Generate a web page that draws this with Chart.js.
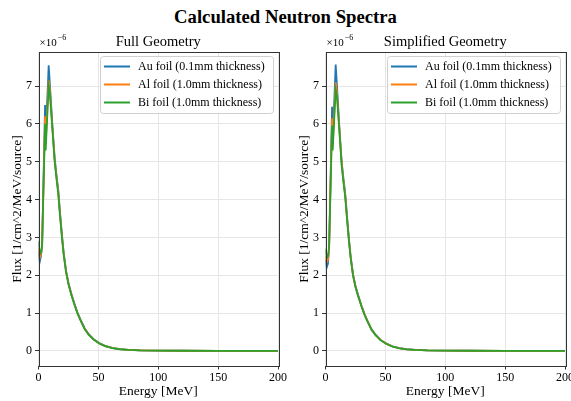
<!DOCTYPE html>
<html>
<head>
<meta charset="utf-8">
<script src="https://cdn.jsdelivr.net/npm/chart.js@4.4.1/dist/chart.umd.min.js"></script>
<style>
  html, body { margin: 0; padding: 0; background: #fff; overflow: hidden; }
  body { width: 571px; height: 401px; position: relative; font-family: 'Liberation Serif', serif; }
  #suptitle { position: absolute; left: 0; top: 6px; width: 571px; text-align: center;
    font-size: 18.7px; font-weight: bold; color: #000; line-height: 22px; }
  canvas { position: absolute; top: 0; }
  #cFull { left: 0; }
  #cSimple { left: 287px; }
</style>
</head>
<body>
<div id="suptitle">Calculated Neutron Spectra</div>
<canvas id="cFull" width="295" height="401"></canvas>
<canvas id="cSimple" width="295" height="401"></canvas>
<script>
// energies in MeV, fluxes in units of 1e-6 /cm^2/MeV/source
const energy = [0, 1, 2, 3, 5.5, 6, 8.5, 9.5, 11.5, 13.5, 15, 16.5, 18, 19.5, 21, 23, 25, 27.5,
  30, 32.5, 35, 38.5, 42, 46, 51, 56, 62, 68, 75, 85, 100, 120, 150, 200];

const fullAu = [2.6, 2.35, 2.5, 2.75, 6.5, 5.6, 7.55, 7.05, 6.0, 5.1, 4.65, 4.25, 3.65, 3.1, 2.6, 2.12, 1.8, 1.5,
  1.25, 1.02, 0.83, 0.6, 0.44, 0.31, 0.2, 0.13, 0.075, 0.045, 0.028, 0.015, 0.007, 0.003, 0.001, 0.0003];
const fullAl = [2.7, 2.45, 2.55, 2.75, 6.2, 5.5, 7.15, 6.9, 5.95, 5.05, 4.6, 4.2, 3.6, 3.05, 2.57, 2.1, 1.78, 1.48,
  1.23, 1.0, 0.82, 0.59, 0.43, 0.3, 0.195, 0.125, 0.073, 0.044, 0.027, 0.015, 0.007, 0.003, 0.001, 0.0003];
const fullBi = [2.9, 2.55, 2.6, 2.8, 6.0, 5.3, 7.0, 6.8, 5.9, 5.0, 4.55, 4.15, 3.55, 3.02, 2.55, 2.08, 1.76, 1.47,
  1.22, 0.99, 0.81, 0.58, 0.42, 0.3, 0.19, 0.12, 0.07, 0.043, 0.027, 0.014, 0.007, 0.003, 0.001, 0.0003];

const simpleAu = [2.4, 2.2, 2.3, 2.7, 6.45, 5.5, 7.57, 7.05, 5.95, 5.0, 4.55, 4.15, 3.55, 2.98, 2.5, 2.02, 1.72, 1.45,
  1.2, 0.98, 0.8, 0.57, 0.42, 0.29, 0.19, 0.12, 0.07, 0.043, 0.027, 0.014, 0.007, 0.003, 0.001, 0.0003];
const simpleAl = [2.5, 2.35, 2.4, 2.7, 6.15, 5.4, 7.1, 6.85, 5.9, 4.95, 4.5, 4.1, 3.5, 2.95, 2.48, 2.0, 1.7, 1.43,
  1.19, 0.97, 0.79, 0.56, 0.41, 0.29, 0.185, 0.115, 0.068, 0.042, 0.026, 0.014, 0.007, 0.003, 0.001, 0.0003];
const simpleBi = [2.7, 2.45, 2.5, 2.75, 5.95, 5.3, 6.9, 6.75, 5.85, 4.9, 4.45, 4.05, 3.47, 2.92, 2.46, 1.98, 1.69, 1.42,
  1.18, 0.96, 0.78, 0.55, 0.41, 0.28, 0.18, 0.11, 0.066, 0.041, 0.026, 0.014, 0.007, 0.003, 0.001, 0.0003];

const seriesLabels = ['Au foil (0.1mm thickness)', 'Al foil (1.0mm thickness)', 'Bi foil (1.0mm thickness)'];
const seriesColors = ['#1f77b4', '#ff7f0e', '#2ca02c'];
const xTicks = [0, 50, 100, 150, 200];
const yTicks = [0, 1, 2, 3, 4, 5, 6, 7];

const SERIF = "'Liberation Serif', 'Times New Roman', serif";

const toPts = arr => energy.map((e, i) => ({ x: e, y: arr[i] }));

// frame, subplot title, offset text and legend box
const decoPlugin = {
  id: 'deco',
  afterDraw(chart, args, opts) {
    const { ctx, chartArea: a } = chart;
    ctx.save();
    ctx.strokeStyle = '#333';
    ctx.lineWidth = 1;
    ctx.strokeRect(Math.round(a.left) + 0.5, Math.round(a.top) + 0.5,
      Math.round(a.right - a.left), Math.round(a.bottom - a.top));

    // subplot title
    ctx.fillStyle = '#000';
    ctx.font = '14.5px ' + SERIF;
    ctx.textAlign = 'center';
    ctx.textBaseline = 'middle';
    ctx.fillText(opts.title, (a.left + a.right) / 2, a.top - 10);

    // x10^-6
    ctx.textAlign = 'left';
    ctx.font = '11px ' + SERIF;
    ctx.fillText('×10', a.left + 1, a.top - 9);
    const w = ctx.measureText('×10').width;
    ctx.font = '8px ' + SERIF;
    ctx.fillText('−6', a.left + 1 + w + 1, a.top - 14);

    // legend
    const bx = a.right - 178, by = a.top + 4, bw = 173, bh = 57;
    ctx.fillStyle = 'rgba(255,255,255,0.85)';
    ctx.strokeStyle = '#d0d0d0';
    ctx.beginPath();
    ctx.roundRect(bx + 0.5, by + 0.5, bw, bh, 3);
    ctx.fill();
    ctx.stroke();
    ctx.font = '12px ' + SERIF;
    ctx.textBaseline = 'middle';
    seriesLabels.forEach((lab, i) => {
      const yy = by + 10.5 + i * 18;
      ctx.strokeStyle = seriesColors[i];
      ctx.lineWidth = 2;
      ctx.beginPath();
      ctx.moveTo(bx + 4, yy);
      ctx.lineTo(bx + 30, yy);
      ctx.stroke();
      ctx.fillStyle = '#000';
      ctx.fillText(lab, bx + 38, yy + 0.5);
    });
    ctx.restore();
  }
};

function makeChart(id, title, au, al, bi) {
  const sets = [au, al, bi].map((arr, i) => ({
    label: seriesLabels[i],
    data: toPts(arr),
    borderColor: seriesColors[i],
    borderWidth: 1.8,
    pointRadius: 0,
    tension: 0,
    fill: false,
    order: 2 - i
  }));
  return new Chart(document.getElementById(id), {
    type: 'line',
    data: { datasets: sets },
    plugins: [decoPlugin],
    options: {
      responsive: false,
      animation: false,
      events: [],
      layout: { padding: { top: 52, right: 17, bottom: 0, left: 0 } },
      plugins: {
        legend: { display: false },
        tooltip: { enabled: false },
        deco: { title: title }
      },
      scales: {
        x: {
          type: 'linear',
          min: 0, max: 200,
          afterBuildTicks: s => { s.ticks = xTicks.map(v => ({ value: v })); },
          afterFit: s => { s.height = 35; },
          border: { display: false },
          grid: { color: '#e6e6e6', tickColor: '#333', tickLength: 3.5 },
          ticks: { color: '#000', padding: 1, maxRotation: 0, font: { family: SERIF, size: 12 } },
          title: { display: true, text: 'Energy [MeV]', color: '#000', padding: { top: 0, bottom: 1 },
            font: { family: SERIF, size: 13.5 } }
        },
        y: {
          min: -0.4, max: 7.9,
          afterBuildTicks: s => { s.ticks = yTicks.map(v => ({ value: v })); },
          afterFit: s => { s.width = 38.5; },
          border: { display: false },
          grid: { color: '#e6e6e6', tickColor: '#333', tickLength: 3.5 },
          ticks: { color: '#000', padding: 3, font: { family: SERIF, size: 12 } },
          title: { display: true, text: 'Flux [1/cm^2/MeV/source]', color: '#000',
            padding: { top: 9, bottom: 0 }, font: { family: SERIF, size: 13.5 } }
        }
      }
    }
  });
}

makeChart('cFull', 'Full Geometry', fullAu, fullAl, fullBi);
makeChart('cSimple', 'Simplified Geometry', simpleAu, simpleAl, simpleBi);
</script>
</body>
</html>
